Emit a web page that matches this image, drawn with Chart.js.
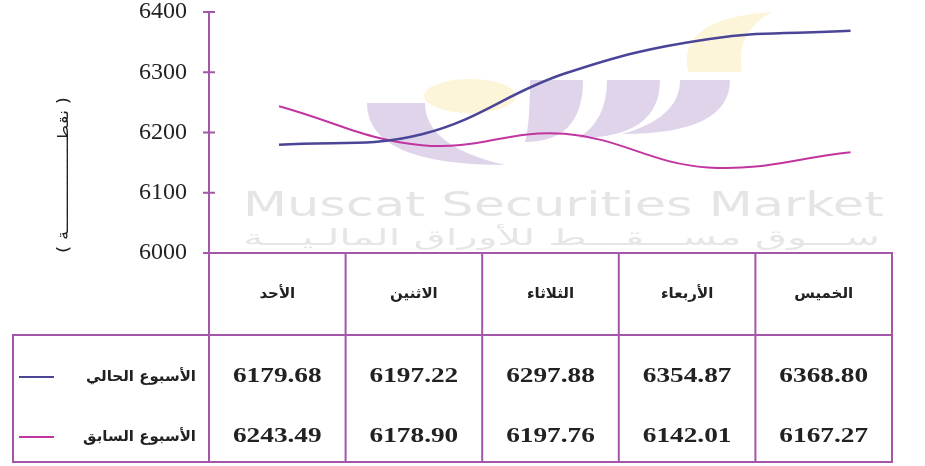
<!DOCTYPE html>
<html>
<head>
<meta charset="utf-8">
<script src="https://cdn.jsdelivr.net/npm/chart.js@4/dist/chart.umd.min.js"></script>
<style>
  html, body { margin: 0; padding: 0; background: #fff; }
  #wrap { width: 925px; height: 466px; }
</style>
</head>
<body>
<div id="wrap"><canvas id="chart" width="925" height="466"></canvas></div>
<script>
const days = ["الأحد", "الاثنين", "الثلاثاء", "الأربعاء", "الخميس"];
const currentWeek = [6179.68, 6197.22, 6297.88, 6354.87, 6368.80];
const previousWeek = [6243.49, 6178.90, 6197.76, 6142.01, 6167.27];
const seriesNames = ["الأسبوع الحالي", "الأسبوع السابق"];
const seriesColors = ["#4b4597", "#c2359f"];
const yTicks = [6000, 6100, 6200, 6300, 6400];
const yTitle = "( نقطـــــــــــــــــة )";
const watermarkEn = "Muscat Securities Market";
const watermarkAr = "ســـوق مســـقـــط للأوراق المالـيـــة";

const frameColor = "#a456a8";

// text squeezed or stretched to a given width
function fitText(ctx, txt, x, y, w, align) {
  const m = ctx.measureText(txt).width;
  const sx = w / m;
  ctx.save();
  ctx.translate(x, y);
  ctx.scale(sx, 1);
  ctx.textAlign = align || "left";
  ctx.fillText(txt, 0, 0);
  ctx.restore();
}

function stretchText(ctx, txt, x, y, sx) {
  ctx.save();
  ctx.translate(x, y);
  ctx.scale(sx, 1);
  ctx.textAlign = "center";
  ctx.fillText(txt, 0, 0);
  ctx.restore();
}

function crescent(ctx, xl, xr, top, bottom, tip, toRight) {
  ctx.beginPath();
  if (toRight) {
    ctx.moveTo(xl, top);
    ctx.quadraticCurveTo(xl, bottom, tip, bottom);
    ctx.quadraticCurveTo(xr, bottom - (bottom - top) * 0.3, xr, top);
  } else {
    ctx.moveTo(xr, top);
    ctx.quadraticCurveTo(xr, bottom, tip, bottom);
    ctx.quadraticCurveTo(xl, bottom - (bottom - top) * 0.3, xl, top);
  }
  ctx.closePath();
  ctx.fill();
}

const watermark = {
  id: "watermark",
  beforeDatasetsDraw(chart) {
    const ctx = chart.ctx;
    ctx.save();
    // logo
    ctx.fillStyle = "#fdf5da";
    ctx.beginPath();
    ctx.ellipse(470, 96, 46, 17, 0, 0, Math.PI * 2);
    ctx.fill();
    ctx.beginPath();
    ctx.moveTo(688, 72);
    ctx.quadraticCurveTo(676, 18, 772, 12);
    ctx.quadraticCurveTo(735, 32, 742, 72);
    ctx.closePath();
    ctx.fill();
    ctx.fillStyle = "#e0d4ea";
    crescent(ctx, 367, 425, 103, 165, 505, true);
    crescent(ctx, 530, 583, 80, 142, 525, false);
    crescent(ctx, 607, 660, 80, 138, 578, false);
    crescent(ctx, 680, 730, 80, 134, 622, false);
    // text
    ctx.fillStyle = "#e5e5e5";
    ctx.textBaseline = "alphabetic";
    ctx.font = "34px 'DejaVu Sans'";
    fitText(ctx, watermarkEn, 243, 216, 641);
    ctx.fillStyle = "#e6e6e6";
    ctx.font = "22px 'DejaVu Sans'";
    ctx.direction = "rtl";
    fitText(ctx, watermarkAr, 880, 245, 637, "right");
    ctx.restore();
  }
};

const frame = {
  id: "frame",
  afterDraw(chart) {
    const ctx = chart.ctx;
    const area = chart.chartArea;
    const y = chart.scales.y;
    const left = area.left, right = area.right, top = area.bottom;
    const colW = (right - left) / days.length;
    const headBottom = 335, row1 = 377, row2 = 437, bottom = 462, legLeft = 13;

    ctx.save();
    ctx.strokeStyle = frameColor;
    ctx.lineWidth = 2;
    // axis + ticks
    ctx.beginPath();
    ctx.moveTo(left, y.getPixelForValue(yTicks[yTicks.length - 1]));
    ctx.lineTo(left, bottom);
    yTicks.forEach(v => {
      const py = y.getPixelForValue(v);
      ctx.moveTo(left - 6, py);
      ctx.lineTo(left + 6, py);
    });
    // table
    ctx.moveTo(left, top);
    ctx.lineTo(right, top);
    ctx.lineTo(right, bottom);
    ctx.lineTo(legLeft, bottom);
    ctx.lineTo(legLeft, headBottom);
    ctx.lineTo(right, headBottom);
    for (let i = 1; i < days.length; i++) {
      ctx.moveTo(left + i * colW, top);
      ctx.lineTo(left + i * colW, bottom);
    }
    ctx.stroke();

    ctx.fillStyle = "#222";
    ctx.textBaseline = "middle";
    // day names
    ctx.font = "bold 15px 'DejaVu Sans'";
    ctx.direction = "rtl";
    days.forEach((d, i) => {
      ctx.textAlign = "center";
      ctx.fillText(d, left + (i + 0.5) * colW, 294);
    });
    // values
    ctx.direction = "ltr";
    ctx.font = "bold 21px 'Liberation Serif'";
    [currentWeek, previousWeek].forEach((arr, r) => {
      const py = r === 0 ? row1 : row2;
      arr.forEach((v, i) => {
        stretchText(ctx, v.toFixed(2), left + (i + 0.5) * colW, py, 1.3);
      });
    });
    // legend
    [row1, row2].forEach((py, r) => {
      ctx.strokeStyle = seriesColors[r];
      ctx.lineWidth = 2;
      ctx.beginPath();
      ctx.moveTo(19, py);
      ctx.lineTo(54, py);
      ctx.stroke();
      ctx.fillStyle = "#222";
      ctx.font = "bold 15px 'DejaVu Sans'";
      ctx.direction = "rtl";
      ctx.textAlign = "right";
      ctx.fillText(seriesNames[r], 196, py);
    });
    // y title
    ctx.save();
    ctx.translate(64, 175);
    ctx.rotate(-Math.PI / 2);
    ctx.font = "15px 'DejaVu Sans'";
    ctx.direction = "rtl";
    fitText(ctx, yTitle, 78, 0, 156, "right");
    ctx.restore();
    ctx.restore();
  }
};

new Chart(document.getElementById("chart"), {
  type: "line",
  data: {
    datasets: [
      {
        label: seriesNames[0],
        data: currentWeek.map((v, i) => ({ x: i, y: v })),
        borderColor: seriesColors[0],
        borderWidth: 2.5,
        tension: 0.4,
        pointRadius: 0,
      },
      {
        label: seriesNames[1],
        data: previousWeek.map((v, i) => ({ x: i, y: v })),
        borderColor: seriesColors[1],
        borderWidth: 2,
        tension: 0.4,
        pointRadius: 0,
      },
    ],
  },
  options: {
    responsive: false,
    animation: false,
    layout: { padding: { left: 0, right: 33, top: 12, bottom: 213 } },
    plugins: { legend: { display: false }, tooltip: { enabled: false } },
    scales: {
      x: { type: "linear", display: false, min: -0.49, max: 4.29 },
      y: {
        min: 6000,
        max: 6400,
        afterFit: (s) => { s.width = 209; },
        afterBuildTicks: (s) => { s.ticks = yTicks.map(v => ({ value: v })); },
        grid: { drawOnChartArea: false, drawTicks: true, tickLength: 22, color: "rgba(0,0,0,0)" },
        border: { display: false },
        ticks: {
          padding: 0,
          color: "#222",
          font: { family: "'Liberation Serif'", size: 24, lineHeight: 1 },
          callback: (v) => String(v),
        },
      },
    },
  },
  plugins: [watermark, frame],
});
</script>
</body>
</html>
